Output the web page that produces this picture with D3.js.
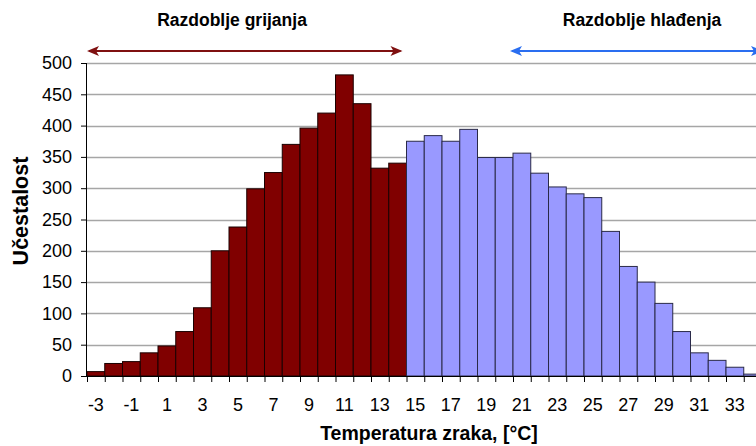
<!DOCTYPE html>
<html><head><meta charset="utf-8">
<script src="https://cdn.jsdelivr.net/npm/d3@7"></script>
<style>
html,body{margin:0;padding:0;background:#fff;overflow:hidden}
text{font-family:"Liberation Sans",Arial,sans-serif}
</style></head>
<body>
<svg id="chart" width="756" height="446"></svg>
<script>
const categories = [-3,-2,-1,0,1,2,3,4,5,6,7,8,9,10,11,12,13,14,15,16,17,18,19,20,21,22,23,24,25,26,27,28,29,30,31,32,33,34];
const heatingValues = [7,20,23,37,48,71,109,200,238,299,325,370,396,420,481,435,332,340];
const coolingValues = [375,384,375,394,349,349,356,324,302,291,285,231,175,150,116,71,37,25,14,3];
const yTicks = [0,50,100,150,200,250,300,350,400,450,500];
const xLabels = [-3,-1,1,3,5,7,9,11,13,15,17,19,21,23,25,27,29,31,33];
const heatingLabel = "Razdoblje grijanja";
const coolingLabel = "Razdoblje hlađenja";
const yTitle = "Učestalost";
const xTitle = "Temperatura zraka, [°C]";

(function () {
const svg = d3.select("#chart");
const mLeft = 87, mBottom = 376, mTop = 63, step = 17.75;
const mRight = mLeft + categories.length * step;

const x = d3.scaleBand().domain(categories).range([mLeft, mRight]).padding(0);
const y = d3.scaleLinear().domain([0, 500]).range([mBottom, mTop]);

const data = categories.map((c, i) => ({
  c, v: i < heatingValues.length ? heatingValues[i] : coolingValues[i - heatingValues.length],
  heat: i < heatingValues.length
}));

// gridlines
svg.append("g").selectAll("line").data(yTicks.filter(t => t > 0)).join("line")
  .attr("x1", mLeft).attr("x2", 756)
  .attr("y1", d => Math.round(y(d)) + 0.5).attr("y2", d => Math.round(y(d)) + 0.5)
  .attr("stroke", "#a6a6a6").attr("stroke-width", 1.3);

// bars
svg.append("g").selectAll("rect").data(data).join("rect")
  .attr("x", d => x(d.c))
  .attr("y", d => y(d.v))
  .attr("width", x.bandwidth())
  .attr("height", d => mBottom - y(d.v))
  .attr("fill", d => d.heat ? "#800000" : "#9999ff")
  .attr("stroke", d => d.heat ? "#1a0000" : "#2a2a48")
  .attr("stroke-width", 1);

// y axis
const yAxis = d3.axisLeft(y).tickValues(yTicks).tickSize(6).tickPadding(9);
const gy = svg.append("g").attr("transform", `translate(${mLeft},0)`).call(yAxis);
gy.select(".domain").attr("stroke", "#000").attr("d", `M-0.5,${mTop}V${mBottom}`);
gy.selectAll(".tick line").attr("stroke", "#000");
gy.selectAll(".tick text").attr("font-size", 18).attr("fill", "#000")
  .attr("font-family", "Liberation Sans, Arial, sans-serif");

// x axis: ticks at band boundaries
const xl = d3.scaleLinear().domain([-3.5, 34.5]).range([mLeft, mRight]);
const xAxisTicks = d3.axisBottom(xl).tickValues(d3.range(-3.5, 35, 1)).tickSize(6).tickFormat("");
const gx = svg.append("g").attr("transform", `translate(0,${mBottom})`).call(xAxisTicks);
gx.select(".domain").attr("stroke", "#000").attr("d", `M${mLeft},0.5H${mRight}`);
gx.selectAll(".tick line").attr("stroke", "#000");

// x labels
const xLabAxis = d3.axisBottom(x).tickValues(xLabels).tickSize(0).tickPadding(22);
const gxl = svg.append("g").attr("transform", `translate(0,${mBottom})`).call(xLabAxis);
gxl.select(".domain").remove();
gxl.selectAll(".tick text").attr("font-size", 18).attr("fill", "#000")
  .attr("font-family", "Liberation Sans, Arial, sans-serif");

// titles
svg.append("text").attr("x", 429).attr("y", 440).attr("text-anchor", "middle")
  .attr("font-size", 19.5).attr("font-weight", "bold").text(xTitle);
svg.append("text").attr("transform", "translate(28,211) rotate(-90)").attr("text-anchor", "middle")
  .attr("font-size", 21.5).attr("font-weight", "bold").text(yTitle);

// period labels
svg.append("text").attr("x", 232).attr("y", 26).attr("text-anchor", "middle")
  .attr("font-size", 17.5).attr("font-weight", "bold").text(heatingLabel);
svg.append("text").attr("x", 642).attr("y", 26).attr("text-anchor", "middle")
  .attr("font-size", 17.5).attr("font-weight", "bold").text(coolingLabel);

// arrows
function arrow(x1, x2, yy, color) {
  const g = svg.append("g");
  g.append("line").attr("x1", x1 + 2).attr("x2", x2 - 2).attr("y1", yy).attr("y2", yy)
    .attr("stroke", color).attr("stroke-width", 2);
  g.append("path").attr("d", `M${x1},${yy} L${x1 + 12},${yy - 5} L${x1 + 9},${yy} L${x1 + 12},${yy + 5} Z`).attr("fill", color);
  g.append("path").attr("d", `M${x2},${yy} L${x2 - 12},${yy - 5} L${x2 - 9},${yy} L${x2 - 12},${yy + 5} Z`).attr("fill", color);
}
arrow(x(-3), x(14) + x.bandwidth() - 4, 51, "#7f1010");
arrow(x(21) - 3, 763, 51, "#2a6ef0");
})();
</script>
</body></html>
